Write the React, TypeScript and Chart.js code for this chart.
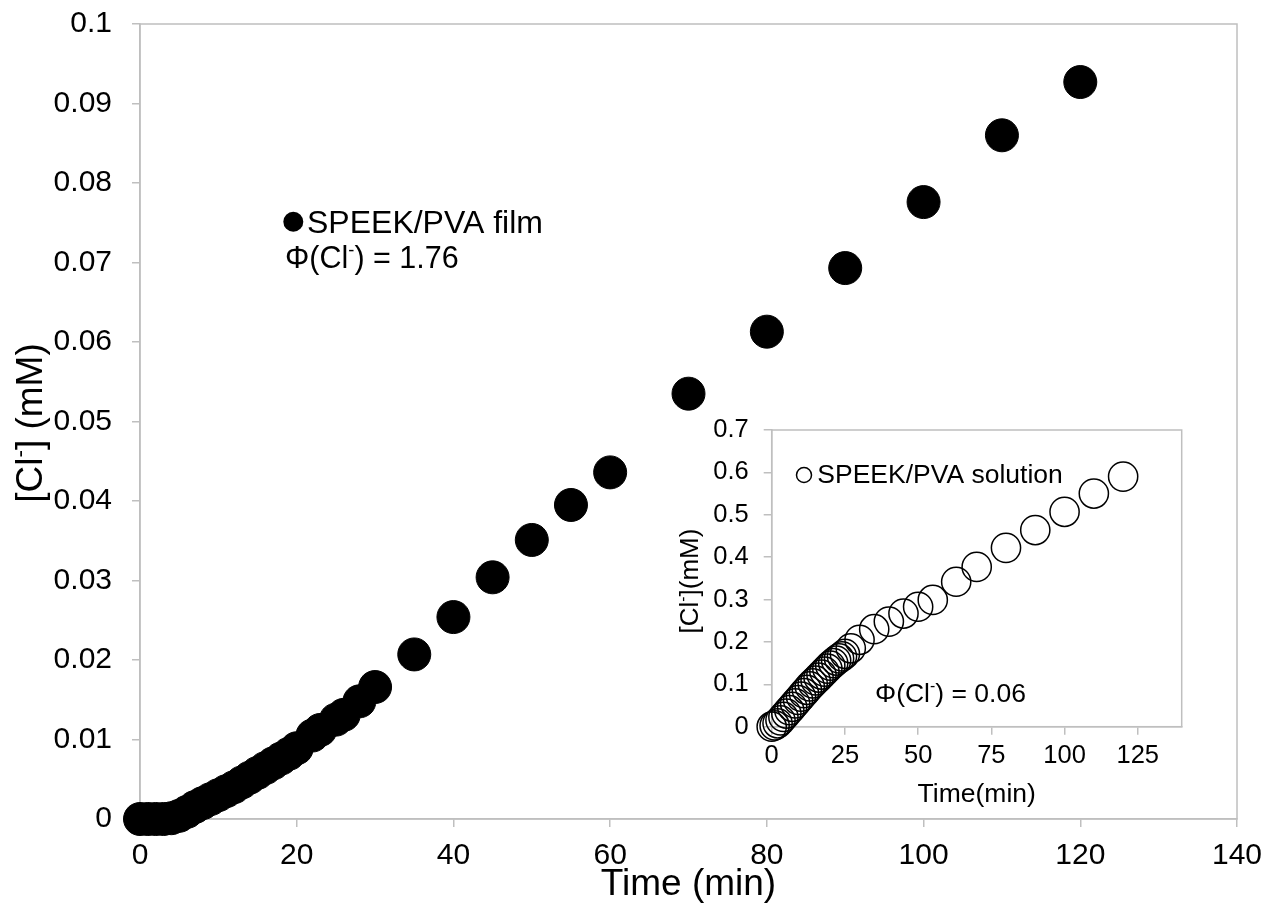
import React, { useEffect, useRef } from 'react';
import { Chart, registerables } from 'chart.js';

Chart.register(...registerables);

const FONT = '"Liberation Sans", Arial, Helvetica, sans-serif';
const AXIS = '#bfbfbf';
const INK = '#000000';

// ---- main chart data: SPEEK/PVA film ----
const filmTime = [0, 1, 2, 3, 4, 5, 6, 7, 8, 9, 10, 11, 12, 13, 14, 15, 16, 17, 18, 19, 20, 22, 23, 25, 26, 28, 30, 35, 40, 45, 50, 55, 60, 70, 80, 90, 100, 110, 120];
const filmCl = [0, 0, 0, 0, 0.0001, 0.0004, 0.0009, 0.0015, 0.002, 0.0025, 0.003, 0.0035, 0.004, 0.0046, 0.0052, 0.0058, 0.0064, 0.007, 0.0076, 0.0082, 0.0089, 0.0105, 0.0112, 0.0125, 0.0131, 0.0148, 0.0166, 0.0207, 0.0254, 0.0304, 0.0351, 0.0395, 0.0436, 0.0535, 0.0613, 0.0693, 0.0776, 0.086, 0.0927];

// ---- inset data: SPEEK/PVA solution ----
const solTime = [0, 1, 2, 3, 4, 5, 6, 7, 8, 9, 10, 11, 12, 13, 14, 15, 16, 17, 18, 19, 20, 21, 22, 23, 24, 25, 27, 30, 35, 40, 45, 50, 55, 63, 70, 80, 90, 100, 110, 120];
const solCl = [0, 0.003, 0.008, 0.015, 0.023, 0.031, 0.039, 0.047, 0.055, 0.063, 0.071, 0.079, 0.087, 0.095, 0.102, 0.109, 0.116, 0.123, 0.13, 0.137, 0.144, 0.15, 0.156, 0.161, 0.166, 0.172, 0.185, 0.205, 0.23, 0.248, 0.267, 0.283, 0.299, 0.342, 0.377, 0.422, 0.464, 0.507, 0.55, 0.59];

// ---- ticks ----
const mainXTicks = [0, 20, 40, 60, 80, 100, 120, 140];
const mainYTicks = [0, 0.01, 0.02, 0.03, 0.04, 0.05, 0.06, 0.07, 0.08, 0.09, 0.1];
const insetXTicks = [0, 25, 50, 75, 100, 125];
const insetYTicks = [0, 0.1, 0.2, 0.3, 0.4, 0.5, 0.6, 0.7];

// ---- texts ----
const filmLabel = 'SPEEK/PVA film';
const solLabel = 'SPEEK/PVA solution';
const filmPhi = '1.76';
const solPhi = '0.06';
const mainXTitle = 'Time (min)';
const insetXTitle = 'Time(min)';

type Part = { t: string; sup?: boolean };

function drawRich(
  ctx: CanvasRenderingContext2D,
  parts: Part[],
  x: number,
  y: number,
  size: number,
  align: 'left' | 'center',
  rotate: boolean
) {
  ctx.save();
  ctx.translate(x, y);
  if (rotate) ctx.rotate(-Math.PI / 2);
  ctx.textBaseline = 'alphabetic';
  ctx.textAlign = 'left';
  ctx.fillStyle = INK;
  const supSize = size * 0.6;
  const widths = parts.map((p) => {
    ctx.font = `${p.sup ? supSize : size}px ${FONT}`;
    return ctx.measureText(p.t).width;
  });
  const total = widths.reduce((a, b) => a + b, 0);
  let cx = align === 'center' ? -total / 2 : 0;
  parts.forEach((p, i) => {
    ctx.font = `${p.sup ? supSize : size}px ${FONT}`;
    ctx.fillText(p.t, cx, p.sup ? -size * 0.4 : 0);
    cx += widths[i];
  });
  ctx.restore();
}

function phiParts(v: string): Part[] {
  return [{ t: '\u03A6(Cl' }, { t: '-', sup: true }, { t: ') = ' + v }];
}

const boxPlugin = {
  id: 'frameBox',
  beforeDatasetsDraw(chart: any) {
    const { ctx, chartArea: a } = chart;
    ctx.save();
    ctx.strokeStyle = AXIS;
    ctx.lineWidth = 1.5;
    ctx.strokeRect(a.left, a.top, a.right - a.left, a.bottom - a.top);
    ctx.restore();
  },
};

const mainTextPlugin = {
  id: 'mainText',
  afterDraw(chart: any) {
    const ctx = chart.ctx as CanvasRenderingContext2D;
    // y axis title
    drawRich(ctx, [{ t: '[Cl' }, { t: '-', sup: true }, { t: '] (mM)' }], 41.5, 423, 37, 'center', true);
    // legend marker
    ctx.save();
    ctx.fillStyle = INK;
    ctx.beginPath();
    ctx.arc(293.3, 221.7, 10, 0, Math.PI * 2);
    ctx.fill();
    ctx.restore();
    drawRich(ctx, [{ t: filmLabel }], 307, 233.3, 32, 'left', false);
    drawRich(ctx, phiParts(filmPhi), 285, 268, 30.5, 'left', false);
  },
};

const insetTextPlugin = {
  id: 'insetText',
  afterDraw(chart: any) {
    const ctx = chart.ctx as CanvasRenderingContext2D;
    drawRich(ctx, [{ t: '[Cl' }, { t: '-', sup: true }, { t: '](mM)' }], 38, 181, 26, 'center', true);
    ctx.save();
    ctx.strokeStyle = INK;
    ctx.lineWidth = 1.5;
    ctx.beginPath();
    ctx.arc(144, 75, 7.5, 0, Math.PI * 2);
    ctx.stroke();
    ctx.restore();
    drawRich(ctx, [{ t: solLabel }], 157.3, 83.3, 26.5, 'left', false);
    drawRich(ctx, phiParts(solPhi), 215, 301.7, 26.5, 'left', false);
  },
};

function fmt(v: number, d: number) {
  return String(+Number(v).toFixed(d));
}

function noPad(s: any) {
  s.paddingTop = 0;
  s.paddingBottom = 0;
  s.paddingLeft = 0;
  s.paddingRight = 0;
}

export default function App() {
  const mainRef = useRef<HTMLCanvasElement | null>(null);
  const insetRef = useRef<HTMLCanvasElement | null>(null);

  useEffect(() => {
    if (!mainRef.current || !insetRef.current) return;

    const main = new Chart(mainRef.current, {
      type: 'scatter',
      data: {
        datasets: [
          {
            label: filmLabel,
            data: filmTime.map((t, i) => ({ x: t, y: filmCl[i] })),
            pointRadius: 16.5,
            pointBorderWidth: 1,
            pointBackgroundColor: INK,
            pointBorderColor: INK,
            showLine: false,
            clip: false as any,
          },
        ],
      },
      options: {
        responsive: false,
        animation: false,
        layout: { padding: { left: 0, top: 24, right: 30, bottom: 0 } },
        plugins: { legend: { display: false }, tooltip: { enabled: false } },
        scales: {
          x: {
            type: 'linear',
            min: 0,
            max: 140,
            afterBuildTicks: (s: any) => {
              s.ticks = mainXTicks.map((v) => ({ value: v }));
            },
            afterFit: (s: any) => {
              s.height = 84;
              noPad(s);
            },
            grid: { drawOnChartArea: false, drawTicks: true, tickLength: 8, color: AXIS, lineWidth: 1.5 },
            border: { display: true, color: AXIS, width: 1.5 },
            ticks: {
              color: INK,
              padding: 14,
              maxRotation: 0,
              font: { family: FONT, size: 30, lineHeight: 1 },
              callback: (v: any) => fmt(v, 0),
            },
            title: {
              display: true,
              text: mainXTitle,
              color: INK,
              font: { family: FONT, size: 37, lineHeight: 1 },
              padding: { top: 0, bottom: 0 },
            },
          },
          y: {
            type: 'linear',
            min: 0,
            max: 0.1,
            afterBuildTicks: (s: any) => {
              s.ticks = mainYTicks.map((v) => ({ value: v }));
            },
            afterFit: (s: any) => {
              s.width = 140;
              noPad(s);
            },
            grid: { drawOnChartArea: false, drawTicks: true, tickLength: 8, color: AXIS, lineWidth: 1.5 },
            border: { display: true, color: AXIS, width: 1.5 },
            ticks: {
              color: INK,
              padding: 20,
              font: { family: FONT, size: 30, lineHeight: 1 },
              callback: (v: any) => fmt(v, 2),
            },
          },
        },
      },
      plugins: [boxPlugin, mainTextPlugin],
    } as any);

    const inset = new Chart(insetRef.current, {
      type: 'scatter',
      data: {
        datasets: [
          {
            label: solLabel,
            data: solTime.map((t, i) => ({ x: t, y: solCl[i] })),
            pointRadius: 14.6,
            pointBorderWidth: 1.5,
            pointBackgroundColor: 'rgba(0,0,0,0)',
            pointBorderColor: INK,
            showLine: false,
            clip: false as any,
          },
        ],
      },
      options: {
        responsive: false,
        animation: false,
        layout: { padding: { left: 0, top: 30, right: 18.3, bottom: 0 } },
        plugins: { legend: { display: false }, tooltip: { enabled: false } },
        scales: {
          x: {
            type: 'linear',
            min: 0,
            max: 140,
            afterBuildTicks: (s: any) => {
              s.ticks = insetXTicks.map((v) => ({ value: v }));
            },
            afterFit: (s: any) => {
              s.height = 103.3;
              noPad(s);
            },
            grid: { drawOnChartArea: false, drawTicks: true, tickLength: 8, color: AXIS, lineWidth: 1.5 },
            border: { display: true, color: AXIS, width: 1.5 },
            ticks: {
              color: INK,
              padding: 8.5,
              maxRotation: 0,
              font: { family: FONT, size: 25.5, lineHeight: 1 },
              callback: (v: any) => fmt(v, 0),
            },
            title: {
              display: true,
              text: insetXTitle,
              color: INK,
              font: { family: FONT, size: 26.5, lineHeight: 1 },
              padding: { top: 0, bottom: 22 },
            },
          },
          y: {
            type: 'linear',
            min: 0,
            max: 0.7,
            afterBuildTicks: (s: any) => {
              s.ticks = insetYTicks.map((v) => ({ value: v }));
            },
            afterFit: (s: any) => {
              s.width = 111.7;
              noPad(s);
            },
            grid: { drawOnChartArea: false, drawTicks: true, tickLength: 8, color: AXIS, lineWidth: 1.5 },
            border: { display: true, color: AXIS, width: 1.5 },
            ticks: {
              color: INK,
              padding: 15,
              font: { family: FONT, size: 25.5, lineHeight: 1 },
              callback: (v: any) => fmt(v, 1),
            },
          },
        },
      },
      plugins: [boxPlugin, insetTextPlugin],
    } as any);

    return () => {
      main.destroy();
      inset.destroy();
    };
  }, []);

  return (
    <div style={{ position: 'fixed', left: 0, top: 0, width: 1267, height: 903, background: '#ffffff' }}>
      <canvas
        ref={mainRef}
        width={1267}
        height={903}
        style={{ position: 'absolute', left: 0, top: 0, width: 1267, height: 903 }}
      />
      <canvas
        ref={insetRef}
        width={540}
        height={430}
        style={{ position: 'absolute', left: 660, top: 400, width: 540, height: 430 }}
      />
    </div>
  );
}
